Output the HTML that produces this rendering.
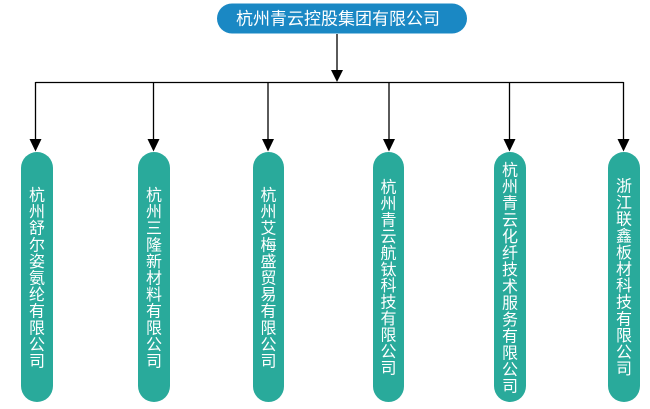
<!DOCTYPE html>
<html>
<head>
<meta charset="utf-8">
<style>
html,body{margin:0;padding:0;background:#fff;}
svg{display:block;}
text{font-family:"Liberation Sans","Noto Sans CJK SC","WenQuanYi Zen Hei",sans-serif;fill:#fff;}
</style>
</head>
<body>
<svg width="650" height="409" viewBox="0 0 650 409" xmlns="http://www.w3.org/2000/svg">
<!-- top box -->
<rect x="217" y="3.5" width="250" height="30" rx="15" ry="15" fill="#1a88c4"/>
<text x="338" y="19" font-size="17" text-anchor="middle" dominant-baseline="central">杭州青云控股集团有限公司</text>
<!-- connectors -->
<g stroke="#000" stroke-width="1.3" fill="none">
<line x1="337" y1="34" x2="337" y2="71"/>
<line x1="35.5" y1="82.5" x2="623.5" y2="82.5"/>
<line x1="35.5" y1="82" x2="35.5" y2="140"/>
<line x1="153.5" y1="82" x2="153.5" y2="140"/>
<line x1="268" y1="82" x2="268" y2="140"/>
<line x1="389" y1="82" x2="389" y2="140"/>
<line x1="509.5" y1="82" x2="509.5" y2="140"/>
<line x1="623.5" y1="82" x2="623.5" y2="140"/>
</g>
<g fill="#000">
<polygon points="331,70 343,70 337,82"/>
<polygon points="29.5,139 41.5,139 35.5,151.5"/>
<polygon points="147.5,139 159.5,139 153.5,151.5"/>
<polygon points="262,139 274,139 268,151.5"/>
<polygon points="383,139 395,139 389,151.5"/>
<polygon points="503.5,139 515.5,139 509.5,151.5"/>
<polygon points="617.5,139 629.5,139 623.5,151.5"/>
</g>
<!-- child boxes -->
<g fill="#29aa9b">
<rect x="21" y="152" width="32" height="250" rx="16"/>
<rect x="138" y="152" width="32" height="250" rx="16"/>
<rect x="253" y="152" width="31" height="250" rx="15.5"/>
<rect x="373" y="152" width="31" height="250" rx="15.5"/>
<rect x="494" y="152" width="32" height="250" rx="16"/>
<rect x="608" y="152" width="32" height="250" rx="16"/>
</g>
<g font-size="16" text-anchor="middle" dominant-baseline="central">
<!-- box 1 -->
<text x="37" y="196">杭</text><text x="37" y="212.6">州</text><text x="37" y="229.2">舒</text><text x="37" y="245.8">尔</text><text x="37" y="262.4">姿</text><text x="37" y="279">氨</text><text x="37" y="295.6">纶</text><text x="37" y="312.2">有</text><text x="37" y="328.8">限</text><text x="37" y="345.4">公</text><text x="37" y="362">司</text>
<!-- box 2 -->
<text x="154" y="196">杭</text><text x="154" y="212.6">州</text><text x="154" y="229.2">三</text><text x="154" y="245.8">隆</text><text x="154" y="262.4">新</text><text x="154" y="279">材</text><text x="154" y="295.6">料</text><text x="154" y="312.2">有</text><text x="154" y="328.8">限</text><text x="154" y="345.4">公</text><text x="154" y="362">司</text>
<!-- box 3 -->
<text x="268.5" y="196">杭</text><text x="268.5" y="212.6">州</text><text x="268.5" y="229.2">艾</text><text x="268.5" y="245.8">梅</text><text x="268.5" y="262.4">盛</text><text x="268.5" y="279">贸</text><text x="268.5" y="295.6">易</text><text x="268.5" y="312.2">有</text><text x="268.5" y="328.8">限</text><text x="268.5" y="345.4">公</text><text x="268.5" y="362">司</text>
<!-- box 4 -->
<text x="388.5" y="188">杭</text><text x="388.5" y="204.5">州</text><text x="388.5" y="220.9">青</text><text x="388.5" y="237.4">云</text><text x="388.5" y="253.8">航</text><text x="388.5" y="270.3">钛</text><text x="388.5" y="286.7">科</text><text x="388.5" y="303.2">技</text><text x="388.5" y="319.6">有</text><text x="388.5" y="336.1">限</text><text x="388.5" y="352.5">公</text><text x="388.5" y="369">司</text>
<!-- box 5 -->
<text x="510" y="171">杭</text><text x="510" y="187.6">州</text><text x="510" y="204.2">青</text><text x="510" y="220.8">云</text><text x="510" y="237.5">化</text><text x="510" y="254.1">纤</text><text x="510" y="270.7">技</text><text x="510" y="287.3">术</text><text x="510" y="303.9">服</text><text x="510" y="320.5">务</text><text x="510" y="337.2">有</text><text x="510" y="353.8">限</text><text x="510" y="370.4">公</text><text x="510" y="387">司</text>
<!-- box 6 -->
<text x="624" y="187">浙</text><text x="624" y="203.6">江</text><text x="624" y="220.2">联</text><text x="624" y="236.8">鑫</text><text x="624" y="253.4">板</text><text x="624" y="270">材</text><text x="624" y="286.6">科</text><text x="624" y="303.2">技</text><text x="624" y="319.8">有</text><text x="624" y="336.4">限</text><text x="624" y="353">公</text><text x="624" y="369.6">司</text>
</g>
</svg>
</body>
</html>
